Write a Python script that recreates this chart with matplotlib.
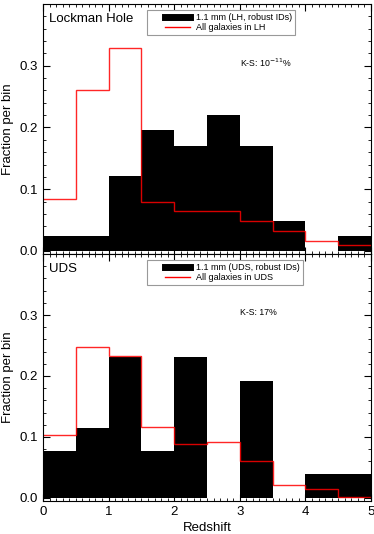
import matplotlib
matplotlib.use('Agg')
import matplotlib.pyplot as plt
import numpy as np
from matplotlib.lines import Line2D
from matplotlib.legend_handler import HandlerLine2D
from matplotlib.ticker import MultipleLocator, FixedLocator, FormatStrFormatter

plt.rcParams['font.family'] = ['Liberation Sans', 'DejaVu Sans']

edges = np.arange(0, 5.01, 0.5)

# Lockman Hole
lh_mm = [1/41, 1/41, 5/41, 8/41, 7/41, 9/41, 7/41, 2/41, 0, 1/41]
lh_all = [0.084, 0.261, 0.329, 0.079, 0.064, 0.064, 0.048, 0.033, 0.016, 0.010]

# UDS
uds_mm = [2/26, 3/26, 6/26, 2/26, 6/26, 0, 5/26, 0, 1/26, 1/26]
uds_all = [0.103, 0.248, 0.233, 0.117, 0.088, 0.092, 0.061, 0.021, 0.015, 0.002]

yticks = [0.0, 0.1, 0.2, 0.3]

panels = [
    ('Lockman Hole', lh_mm, lh_all, '1.1 mm (LH, robust IDs)', 'All galaxies in LH', r'K-S: 10$^{-11}$%'),
    ('UDS', uds_mm, uds_all, '1.1 mm (UDS, robust IDs)', 'All galaxies in UDS', 'K-S: 17%'),
]

fig = plt.figure(figsize=(3.74, 5.34), dpi=100)
axes = [fig.add_axes([0.115, 0.5243, 0.877, 0.4682]),
        fig.add_axes([0.115, 0.0618, 0.877, 0.4625])]

for ax, (name, mm, allg, lab_mm, lab_all, ks) in zip(axes, panels):
    ax.bar(edges[:-1], mm, width=0.5, align='edge', color='black', edgecolor='none')
    ax.stairs(allg, edges, baseline=None, color='red', lw=1.0, alpha=0.85)
    ax.set_xlim(0, 5)
    ax.set_ylim(-0.005, 0.40)
    ax.xaxis.set_major_locator(MultipleLocator(1))
    ax.xaxis.set_minor_locator(MultipleLocator(0.1))
    ax.yaxis.set_major_locator(FixedLocator(yticks))
    ax.yaxis.set_minor_locator(MultipleLocator(0.02))
    ax.yaxis.set_major_formatter(FormatStrFormatter('%.1f'))
    ax.tick_params(which='both', direction='in', top=True, right=True, labelsize=9.5)
    ax.tick_params(which='major', length=5, width=0.8)
    ax.tick_params(which='minor', length=2.5, width=0.6)
    for s in ax.spines.values():
        s.set_linewidth(0.8)
    ax.set_ylabel('Fraction per bin', fontsize=9.5)
    ax.yaxis.set_label_coords(-0.088, 0.5)
    ax.text(0.018, 0.965, name, transform=ax.transAxes, fontsize=9.5, va='top', ha='left')
    ax.text(0.60, 0.765, ks, transform=ax.transAxes, fontsize=6.3, va='center', ha='left')
    handles = [Line2D([0], [0], color='black', lw=5), Line2D([0], [0], color='red', lw=1)]
    hmap = {h: HandlerLine2D(xpad=1.7) for h in handles}
    leg = ax.legend(handles, [lab_mm, lab_all], loc='upper left', bbox_to_anchor=(0.317, 0.975),
                    borderaxespad=0, fontsize=6.5, handlelength=4.4, handletextpad=0.65,
                    labelspacing=0.05, borderpad=0.35, fancybox=False, framealpha=1,
                    handler_map=hmap)
    leg.get_frame().set_edgecolor('#999999')
    leg.get_frame().set_linewidth(0.8)

axes[0].tick_params(labelbottom=False)
axes[1].set_xlabel('Redshift', fontsize=9.5, labelpad=3)

fig.savefig('out.png', dpi=100)
